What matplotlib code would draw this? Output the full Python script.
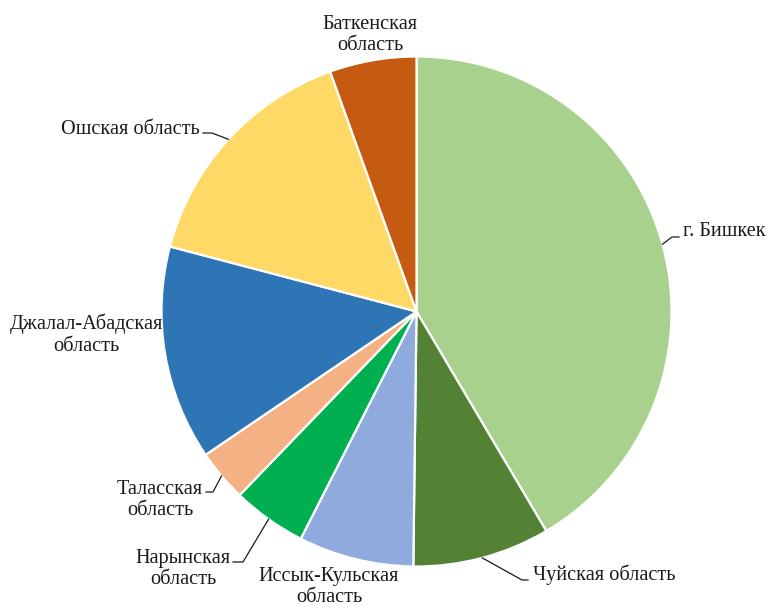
import numpy as np
import matplotlib.pyplot as plt

plt.rcParams["font.family"] = ["Liberation Serif", "DejaVu Serif"]

regions = ["г. Бишкек", "Чуйская область", "Иссык-Кульская\nобласть",
           "Нарынская\nобласть", "Таласская\nобласть",
           "Джалал-Абадская\nобласть", "Ошская область", "Баткенская\nобласть"]
shares = [41.5, 8.7, 7.3, 4.7, 3.3, 13.6, 15.4, 5.5]
colors = ["#A9D18E", "#548235", "#8FAADC", "#00B050", "#F4B183",
          "#2E75B6", "#FFD966", "#C55A11"]

W, H = 769, 610
CX, CY, R = 416.5, 311.5, 255


def px(x, y):
    # figure pixel (from top-left) -> data coords of the pie axes
    return (x - CX) / R, (CY - y) / R


fig = plt.figure(figsize=(W / 100, H / 100), dpi=100)
ax = fig.add_axes([(CX - R) / W, (H - CY - R) / H, 2 * R / W, 2 * R / H])
wedges, _ = ax.pie(shares, colors=colors, startangle=90, counterclock=False,
                   radius=1, wedgeprops=dict(edgecolor="white", linewidth=1.6))
ax.set_xlim(-1, 1)
ax.set_ylim(-1, 1)
ax.set_aspect("equal")
ax.axis("off")

# label position (px), alignment, leader elbow and end (px) or None
layout = {
    0: ((683, 232), "left", [(672, 237), (679, 237)]),
    1: ((533, 575), "left", [(522, 580), (528, 580)]),
    2: ((329, 587), "center", None),
    3: ((183, 569), "center", [(243, 562), (233, 562)]),
    4: ((160, 500), "center", [(213, 492), (206, 492)]),
    5: ((86, 335), "center", None),
    6: ((200, 129), "right", [(212, 133), (203, 133)]),
    7: ((370, 35), "center", None),
}

for i, w in enumerate(wedges):
    (tx, ty), ha, leader = layout[i]
    x, y = px(tx, ty)
    ax.text(x, y, regions[i], ha=ha, va="center", multialignment="center",
            fontsize=14.6, color="#1a1a1a", clip_on=False, linespacing=1.2)
    if leader:
        mid = np.deg2rad((w.theta1 + w.theta2) / 2)
        pts = [(np.cos(mid), np.sin(mid))] + [px(*p) for p in leader]
        xs, ys = zip(*pts)
        ax.plot(xs, ys, color="#1a1a1a", lw=0.9, clip_on=False)

fig.savefig("out.png", dpi=100)
